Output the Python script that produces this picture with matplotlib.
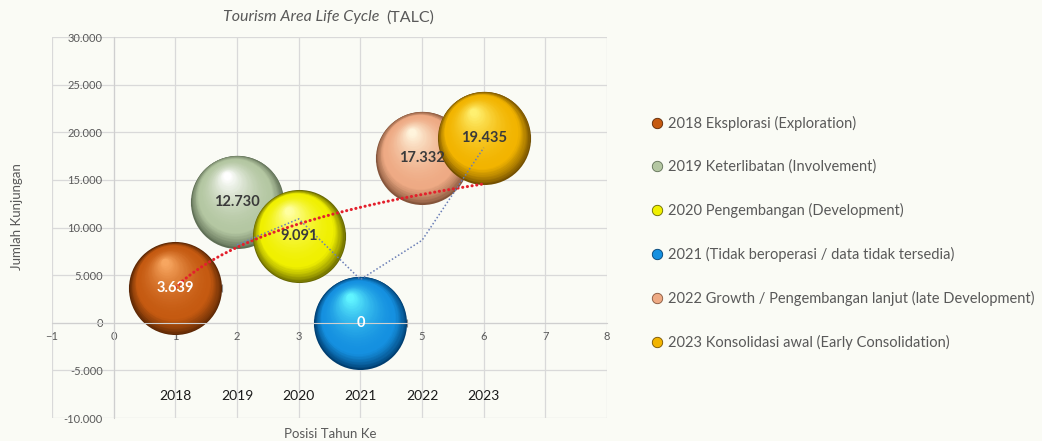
import matplotlib
matplotlib.use("Agg")
import matplotlib.pyplot as plt
import matplotlib.transforms as mtransforms
from matplotlib.colors import to_rgb
from matplotlib.lines import Line2D
from matplotlib.ticker import FuncFormatter, MultipleLocator
import numpy as np

plt.rcParams['font.family'] = ['Lato', 'DejaVu Sans']

# data
years = ['2018', '2019', '2020', '2021', '2022', '2023']
phases = ['2018 Eksplorasi (Exploration)',
          '2019 Keterlibatan (Involvement)',
          '2020 Pengembangan (Development)',
          '2021 (Tidak beroperasi / data tidak tersedia)',
          '2022 Growth / Pengembangan lanjut (late Development)',
          '2023 Konsolidasi awal (Early Consolidation)']
posisi = [1, 2, 3, 4, 5, 6]
kunjungan = [3639, 12730, 9091, 0, 17332, 19435]
value_labels = ['3.639', '12.730', '9.091', '0', '17.332', '19.435']

# bubble colours: rim, body, highlight
rim = ['#5a2604', '#5e6e54', '#666600', '#003e70', '#84543a', '#745000']
body = ['#c55a11', '#b4c7a2', '#f0f000', '#1590e0', '#eeaa84', '#f2b400']
hilite = ['#f7a660', '#ffffff', '#ffffa0', '#60f4ff', '#fff4dc', '#fff070']
label_col = ['white', '#3a3a3a', '#3a3a3a', 'white', '#3a3a3a', '#3a3a3a']

bg = '#fafbf5'
grey = '#595959'

fig = plt.figure(figsize=(10.42, 4.41), dpi=100, facecolor=bg)
ax = fig.add_axes([0.050, 0.052, 0.5326, 0.864], facecolor=bg)

ax.set_xlim(-1, 8)
ax.set_ylim(-10000, 30000)
ax.xaxis.set_major_locator(MultipleLocator(1))
ax.yaxis.set_major_locator(MultipleLocator(5000))
ax.yaxis.set_major_formatter(FuncFormatter(lambda v, p: f"{int(v):,}".replace(",", ".")))
ax.grid(True, color='#d9d9d9', lw=0.9, zorder=0)
ax.set_axisbelow(True)
for s in ['top', 'right']:
    ax.spines[s].set_visible(False)
ax.spines['left'].set_position(('data', 0))
ax.spines['bottom'].set_position(('data', 0))
ax.spines['left'].set_color('#cfcfcf')
ax.spines['bottom'].set_color('#cfcfcf')
ax.tick_params(length=0, labelsize=8, colors=grey)
ax.tick_params(axis='y', pad=8)
ax.tick_params(axis='x', pad=6)

# hidden x error bars, only caps peek out at the bubble edges
ax.errorbar(posisi, kunjungan, xerr=0.75, fmt='none', ecolor='#8c8c8c',
            elinewidth=0.8, capsize=3, capthick=0.8, zorder=1)

# shaded 3-D bubbles
diam = 67.0  # points
nlay = 50


def mix(a, b, t):
    a, b = np.array(to_rgb(a)), np.array(to_rgb(b))
    return tuple(a + (b - a) * t)


for i in range(len(posisi)):
    for k in range(nlay):
        t = k / (nlay - 1)
        f = 1.0 - 0.92 * t
        if t < 0.22:
            col = mix(rim[i], body[i], (t / 0.22) ** 0.8)
        else:
            col = mix(body[i], hilite[i], ((t - 0.22) / 0.78) ** 1.8)
        off = (1 - f) * diam / 2 * 0.6
        tr = mtransforms.offset_copy(ax.transData, fig=fig, x=-off * 0.4,
                                     y=off, units='points')
        ax.scatter([posisi[i]], [kunjungan[i]], s=(diam * f) ** 2, color=col,
                   linewidths=0, transform=tr, zorder=2 + i * 0.1 + k * 0.001)

# logarithmic trendline
a, b = np.polyfit(np.log(posisi), kunjungan, 1)
xt = np.linspace(posisi[0], posisi[-1], 300)
ax.plot(xt, a * np.log(xt) + b, color='#e3202c', lw=2.2,
        linestyle=(0, (0.05, 1.5)), dash_capstyle='round', zorder=4)

# 2-period moving average
ma = np.convolve(kunjungan, [0.5, 0.5], mode='valid')
ax.plot(posisi[1:], ma, color='#6a7eb6', lw=1.1, linestyle=(0, (1, 1.4)), zorder=4)

# value labels
for i in range(len(posisi)):
    ax.text(posisi[i], kunjungan[i], value_labels[i], ha='center', va='center',
            fontsize=10.5, fontweight='bold', color=label_col[i], zorder=6)

# year labels
for i in range(len(posisi)):
    ax.text(posisi[i], -7700, years[i], ha='center', va='center',
            fontsize=10, color='#1a1a1a', zorder=6)

# titles
fig.text(0.364, 0.961, 'Tourism Area Life Cycle', ha='right', va='center',
         fontsize=11.5, style='italic', color=grey)
fig.text(0.371, 0.961, '(TALC)', ha='left', va='center', fontsize=11.5, color=grey)
fig.text(0.0165, 0.51, 'Jumlah Kunjungan', rotation=90, ha='center', va='center',
         fontsize=9.5, color=grey)
fig.text(0.317, 0.016, 'Posisi Tahun Ke', ha='center', va='center',
         fontsize=9.5, color=grey)

# legend
handles = [Line2D([], [], marker='o', linestyle='none', markersize=7.5,
                  markerfacecolor=body[i], markeredgecolor=rim[i], markeredgewidth=0.6)
           for i in range(len(posisi))]
leg = fig.legend(handles, phases, loc='upper left', bbox_to_anchor=(0.618, 0.754),
                 frameon=False, fontsize=10.5, labelcolor=grey, handlelength=0.8,
                 handletextpad=0.35, labelspacing=1.98, borderpad=0)

fig.savefig('out.png', dpi=100, facecolor=bg)
